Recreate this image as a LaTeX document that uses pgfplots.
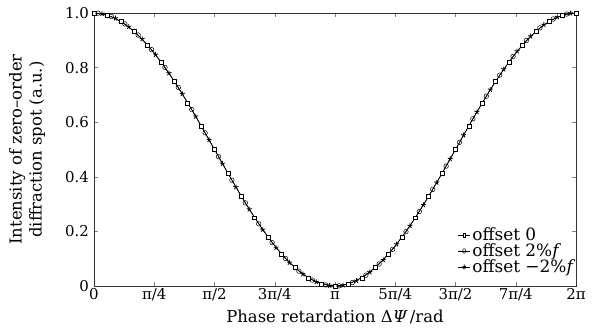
\documentclass[border=0pt]{standalone}
\usepackage{pgfplots}
\pgfplotsset{compat=1.18}
\usepackage{fontspec}
\setmainfont{DejaVu Serif}
\begin{document}
\fontsize{15}{17}\selectfont
\begin{tikzpicture}
\begin{axis}[
  at={(0,0)}, anchor=south west,
  scale only axis,
  width=482bp, height=273bp,
  xmin=0, xmax=360, ymin=0, ymax=1,
  xtick={0,45,90,135,180,225,270,315,360},
  xticklabels={0,π/4,π/2,3π/4,π,5π/4,3π/2,7π/4,2π},
  ytick={0,0.2,0.4,0.6,0.8,1.0},
  yticklabels={0,0.2,0.4,0.6,0.8,1.0},
  tick align=inside,
  major tick length=4bp,
  tick style={gray, thin},
  axis line style={black!80, thin},
  xlabel={Phase retardation Δ{\itshape Ψ}\,/rad},
  ylabel={\begin{tabular}{c}Intensity of zero–order\\[2pt]diffraction spot (a.u.)\end{tabular}},
  xlabel style={yshift=1bp},
  ylabel style={yshift=8bp},
  xticklabel style={text height=11bp, text depth=2bp, yshift=3bp},
  ticklabel style={font=\fontsize{15}{17}\selectfont},
  label style={font=\fontsize{16.5}{18}\selectfont},
  legend style={draw=none, fill=none, at={(1,0.03)}, anchor=south east, font=\fontsize{17}{19}\selectfont, row sep=-3bp, inner sep=1bp},
  legend cell align=left,
  legend image post style={xscale=0.7},
]
\addplot[black, line width=0.5pt, mark=square*, mark size=2pt, mark options={fill=white, solid}] coordinates {
(0,1)(10,0.99240)(20,0.96985)(30,0.93301)(40,0.88302)(50,0.82139)(60,0.75)(70,0.67101)(80,0.58682)(90,0.5)
(100,0.41318)(110,0.32899)(120,0.25)(130,0.17861)(140,0.11698)(150,0.06699)(160,0.03015)(170,0.00760)(180,0)
(190,0.00760)(200,0.03015)(210,0.06699)(220,0.11698)(230,0.17861)(240,0.25)(250,0.32899)(260,0.41318)(270,0.5)
(280,0.58682)(290,0.67101)(300,0.75)(310,0.82139)(320,0.88302)(330,0.93301)(340,0.96985)(350,0.99240)(360,1)
};
\addlegendentry{offset 0}
\addplot[black, line width=0.5pt, mark=o, mark size=2.3pt, mark options={fill=white, solid}] coordinates {
(3,0.99932)(13,0.98719)(23,0.96025)(33,0.91934)(43,0.86568)(53,0.80091)(63,0.72700)(73,0.64619)(83,0.56093)
(93,0.47383)(103,0.38752)(113,0.30463)(123,0.22768)(133,0.15900)(143,0.10068)(153,0.05450)(163,0.02185)(173,0.00373)
(183,0.00069)(193,0.01282)(203,0.03975)(213,0.08066)(223,0.13432)(233,0.19909)(243,0.27300)(253,0.35381)(263,0.43907)
(273,0.52617)(283,0.61248)(293,0.69537)(303,0.77232)(313,0.84100)(323,0.89932)(333,0.94550)(343,0.97815)(353,0.99627)
};
\addlegendentry{offset 2\%{\itshape f}}
\addplot[black, line width=0.5pt, mark=star, mark size=2.6pt, mark options={solid, line width=0.8pt}] coordinates {
(6,0.99726)(16,0.98063)(26,0.94940)(36,0.90451)(46,0.84733)(56,0.77960)(66,0.70337)(76,0.62096)(86,0.53488)
(96,0.44774)(106,0.36218)(116,0.28081)(126,0.20611)(136,0.14033)(146,0.08548)(156,0.04323)(166,0.01485)(176,0.00122)
(186,0.00274)(196,0.01937)(206,0.05060)(216,0.09549)(226,0.15267)(236,0.22040)(246,0.29663)(256,0.37904)(266,0.46512)
(276,0.55226)(286,0.63782)(296,0.71919)(306,0.79389)(316,0.85967)(326,0.91452)(336,0.95677)(346,0.98515)(356,0.99878)
};
\addlegendentry{offset −2\%{\itshape f}}
\end{axis}
\pgfresetboundingbox
\path (-94bp,-50bp) rectangle (510bp,286bp);
\end{tikzpicture}
\end{document}
